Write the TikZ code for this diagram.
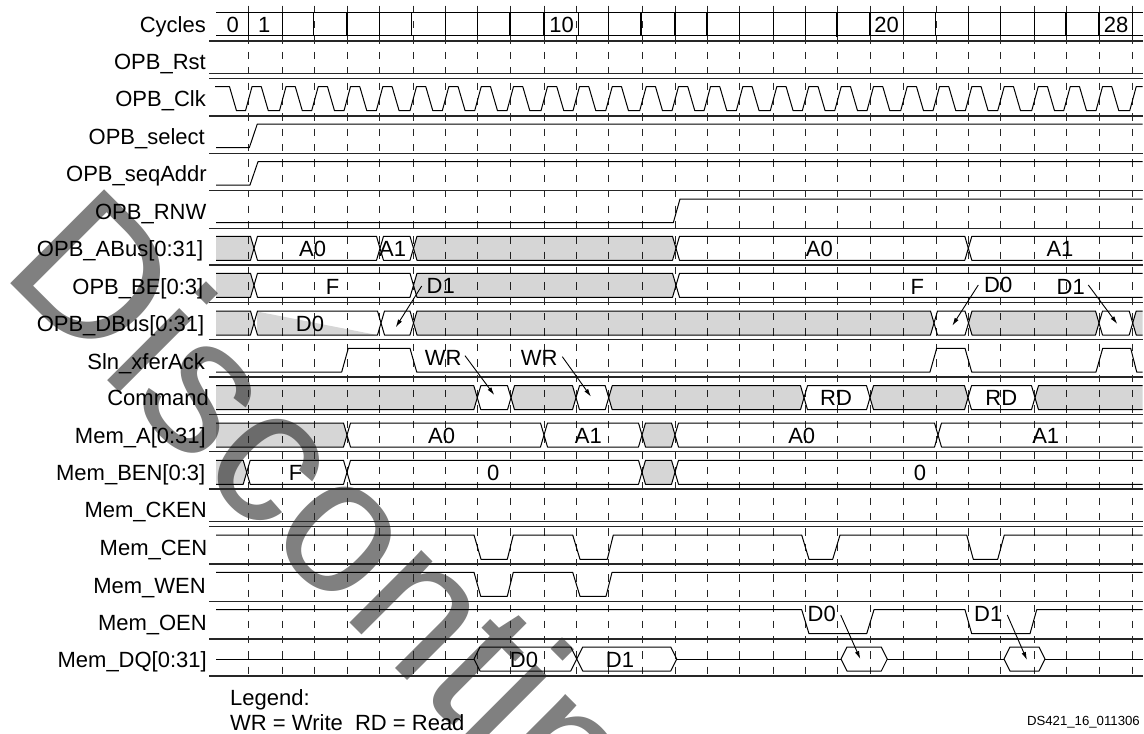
\documentclass[tikz,border=0pt]{standalone}
\usepackage{fontspec}
\setmainfont{Liberation Sans}
\usetikzlibrary{arrows.meta}
\definecolor{wm}{gray}{0.5}
\tikzset{
  wave/.style={draw=black,line width=1pt,line join=round},
  sep/.style={draw=black!85,line width=1.1pt},
  grayfill/.style={fill=black,fill opacity=.16},
  nofill/.style={fill=none},
  tickline/.style={draw=black!85,line width=.95pt,dash pattern=on 7.3pt off 8.07pt},
  bar/.style={draw=black,line width=1.2pt},
  sig/.style={anchor=base east,inner sep=0pt,font=\fontsize{22}{24}\selectfont},
  val/.style={anchor=base,inner sep=0pt,font=\fontsize{22}{24}\selectfont},
  note/.style={anchor=base west,inner sep=0pt,font=\fontsize{22}{24}\selectfont},
  callout/.style={draw=black,line width=.9pt,-{Latex[length=8pt,width=4.5pt]}},
}
% bus segments: top y, x1, x2, style (height 24, tip 3.5)
\newcommand{\seg}[4]{\draw[wave,#4] (#2,#1+12) -- (#2+3.5,#1) -- (#3-3.5,#1) -- (#3,#1+12) -- (#3-3.5,#1+24) -- (#2+3.5,#1+24) -- cycle;}
\newcommand{\segL}[3]{%
  \path[#3] (216,#1) -- (#2-3.5,#1) -- (#2,#1+12) -- (#2-3.5,#1+24) -- (216,#1+24) -- cycle;
  \draw[wave] (216,#1) -- (#2-3.5,#1) -- (#2,#1+12) -- (#2-3.5,#1+24) -- (216,#1+24);}
\newcommand{\segR}[3]{%
  \path[#3] (1142.7,#1) -- (#2+3.5,#1) -- (#2,#1+12) -- (#2+3.5,#1+24) -- (1142.7,#1+24) -- cycle;
  \draw[wave] (1142.7,#1) -- (#2+3.5,#1) -- (#2,#1+12) -- (#2+3.5,#1+24) -- (1142.7,#1+24);}
\newcommand{\dq}[2]{\draw[wave] (#1,659) -- (#1+6,647) -- (#2-6,647) -- (#2,659) -- (#2-6,671) -- (#1+6,671) -- cycle;}
\begin{document}
\begin{tikzpicture}[x=1pt,y=-1pt]
\useasboundingbox (0,0) rectangle (1144,734);
\clip (0,0) rectangle (1144,734);
\fill[white] (0,0) rectangle (1144,734);
% watermark
\node[rotate=-45,anchor=base west,inner sep=0pt,text=wm,font=\fontsize{193}{193}\selectfont] (stamp) at (-0.5,272.5) {Discontinued};
% light wedge in OPB_DBus
\fill[black,fill opacity=.16] (257,311.5) -- (377,335) -- (257,335) -- cycle;
% grid ticks
\foreach \x in {248.5,282.5,314.7,347,379.3,413,445.3,477.7,510,544,576,608.7,642.7,675,707,739.3,773.3,805.3,837.7,870,903.7,936,968.3,1000.7,1034.7,1066.7,1099,1132.7}
  \draw[tickline] (\x,5.7) -- (\x,673.9);
% cycle bars
\draw[wave] (216,12.3) -- (1142.7,12.3) (216,35.7) -- (1142.7,35.7);
\foreach \x in {248.5,282.5,313.5,347,379.3,411.7,445.3,477.7,510,544,578.3,608.7,641,675,707,739.3,773.3,805.3,870,903.7,935.7,968.3,1000.7,1034.7,1066,1099,1132.7}
  \draw[bar] (\x,12.3) -- (\x,35.7);
\draw[bar,line width=2.4pt] (836.9,12.3) -- (836.9,37);
% separators
\foreach \y in {41,73.3,78.7,116,153.3,190.7,228.3,265,302.3,339.7,377,414.3,451.7,489,521.3,526.7,564,601.7,639,676}
  \draw[sep] (209.3,\y) -- (1142.7,\y);
% OPB_Clk
\draw[wave] (215,86.7) -- (229.5,86.7) -- (236.5,110.7)
  foreach \t in {248.5,282.5,314.7,347,379.3,413,445.3,477.7,510,544,576,608.7,642.7,675,707,739.3,773.3,805.3,837.7,870,903.7,936,968.3,1000.7,1034.7,1066.7,1099}
  { -- (\t-3,110.7) -- (\t+3.5,86.7) -- (\t+12.8,86.7) -- (\t+19.8,110.7) }
  -- (1129.7,110.7) -- (1136.2,86.7) -- (1142.7,86.7);
% single-bit signals
\draw[wave] (216,147.7) -- (249.3,147.7) -- (257.3,124) -- (1142.7,124);
\draw[wave] (216,185) -- (250,185) -- (258,161.7) -- (1142.7,161.7);
\draw[wave] (216,222.7) -- (673.3,222.7) -- (680,199) -- (1142.7,199);
\draw[wave] (216,372) -- (341.7,372) -- (348.3,348.3) -- (410,348.3) -- (416.7,372) -- (930,372) -- (936.7,348.3) -- (965,348.3) -- (971.7,372) -- (1096,372) -- (1102.7,348.3) -- (1130.7,348.3) -- (1136.7,372) -- (1142.7,372);
\draw[wave] (216,535) -- (474,535) -- (481,559.3) -- (507.3,559.3) -- (513.3,535) -- (572.7,535) -- (580,559.3) -- (607.3,559.3) -- (613.3,535) -- (801.7,535) -- (809,559.3) -- (832.7,559.3) -- (840,535) -- (966.7,535) -- (973.3,559.3) -- (997.7,559.3) -- (1004.3,535) -- (1142.7,535);
\draw[wave] (216,572.3) -- (474,572.3) -- (480.7,596.3) -- (507.3,596.3) -- (513.3,572.3) -- (572.7,572.3) -- (580,596.3) -- (606,596.3) -- (612,572.3) -- (1142.7,572.3);
\draw[wave] (216,609.7) -- (801.7,609.7) -- (809,633.7) -- (866.7,633.7) -- (874,609.7) -- (965,609.7) -- (971.7,633.7) -- (1030,633.7) -- (1036.7,609.7) -- (1142.7,609.7);
% OPB_ABus
\segL{236.3}{254}{grayfill}
\seg{236.3}{254}{380}{nofill}
\seg{236.3}{380}{413.5}{nofill}
\seg{236.3}{413.5}{676}{grayfill}
\seg{236.3}{676}{968.3}{nofill}
\segR{236.3}{968.3}{nofill}
% OPB_BE
\segL{273.3}{254}{grayfill}
\seg{273.3}{254}{413.5}{nofill}
\seg{273.3}{413.5}{676}{grayfill}
\segR{273.3}{676}{nofill}
% OPB_DBus
\segL{311}{254}{grayfill}
\seg{311}{254}{381}{nofill}
\seg{311}{381}{413.5}{nofill}
\seg{311}{413.5}{934}{grayfill}
\seg{311}{934}{968.5}{nofill}
\seg{311}{968.5}{1099}{grayfill}
\seg{311}{1099}{1132.7}{nofill}
\segR{311}{1132.7}{grayfill}
% Command
\segL{385.7}{477.3}{grayfill}
\seg{385.7}{477.3}{511}{nofill}
\seg{385.7}{511}{576}{grayfill}
\seg{385.7}{576}{608.7}{nofill}
\seg{385.7}{608.7}{804}{grayfill}
\seg{385.7}{804}{870}{nofill}
\seg{385.7}{870}{968}{grayfill}
\seg{385.7}{968}{1035}{nofill}
\segR{385.7}{1035}{grayfill}
% Mem_A
\segL{423}{347}{grayfill}
\seg{423}{347}{544}{nofill}
\seg{423}{544}{642}{nofill}
\seg{423}{642}{675}{grayfill}
\seg{423}{675}{938}{nofill}
\segR{423}{938}{nofill}
% Mem_BEN
\segL{460.3}{246.7}{grayfill}
\seg{460.3}{246.7}{347}{nofill}
\seg{460.3}{347}{642}{nofill}
\seg{460.3}{642}{675}{grayfill}
\segR{460.3}{675}{nofill}
% Mem_DQ
\draw[wave] (216,659) -- (474,659) (676.7,659) -- (841,659) (887.3,659) -- (1004,659) (1045,659) -- (1142.7,659);
\dq{474}{576.7}
\dq{576.7}{676.7}
\dq{841}{887.3}
\dq{1004}{1045}
% signal names
\node[sig] (nCycles) at (206,32.7) {Cycles};
\node[sig] (nRst) at (206,69.3) {OPB\_Rst};
\node[sig] (nClk) at (206,106.7) {OPB\_Clk};
\node[sig] (nSel) at (205,144.3) {OPB\_select};
\node[sig] (nSeq) at (207,181.7) {OPB\_seqAddr};
\node[sig] (nRNW) at (206.5,219) {OPB\_RNW};
\node[sig] (nABus) at (203.5,256.7) {OPB\_ABus[0:31]};
\node[sig] (nBE) at (203.5,294.3) {OPB\_BE[0:3]};
\node[sig] (nDBus) at (204.5,331.7) {OPB\_DBus[0:31]};
\node[sig] (nAck) at (205,369) {Sln\_xferAck};
\node[sig] (nCmd) at (209,405.7) {Command};
\node[sig] (nMA) at (206,443.3) {Mem\_A[0:31]};
\node[sig] (nBEN) at (205.5,480.7) {Mem\_BEN[0:3]};
\node[sig] (nCKEN) at (207,517.3) {Mem\_CKEN};
\node[sig] (nCEN) at (207.5,555.7) {Mem\_CEN};
\node[sig] (nWEN) at (206,593.3) {Mem\_WEN};
\node[sig] (nOEN) at (207,630) {Mem\_OEN};
\node[sig] (nDQ) at (207,667.7) {Mem\_DQ[0:31]};
% cycle numbers
\node[val] (c0) at (232.7,32.7) {0};
\node[val] (c1) at (264.3,32.7) {1};
\node[val] (c10) at (561.7,32.7) {10};
\node[val] (c20) at (886.7,32.7) {20};
\node[val] (c28) at (1116,32.7) {28};
% values
\node[val] (v1) at (312.7,256.7) {A0};
\node[val] (v2) at (392.7,256.7) {A1};
\node[val] (v3) at (819.3,256.7) {A0};
\node[val] (v4) at (1060,256.7) {A1};
\node[val] (v5) at (332.7,294.3) {F};
\node[val] (v6) at (440.7,293.3) {D1};
\node[val] (v7) at (917.3,294.3) {F};
\node[val] (v8) at (998.3,292.3) {D0};
\node[val] (v9) at (1070.7,294) {D1};
\node[val] (v10) at (310,331.7) {D0};
\node[val] (v11) at (443.3,365) {WR};
\node[val] (v12) at (539.3,365) {WR};
\node[val] (v13) at (836,405.7) {RD};
\node[val] (v14) at (1001.3,405.7) {RD};
\node[val] (v15) at (441.7,443.3) {A0};
\node[val] (v16) at (588.3,443.3) {A1};
\node[val] (v17) at (801.7,443.3) {A0};
\node[val] (v18) at (1045.7,443.3) {A1};
\node[val] (v19) at (295.7,480.7) {F};
\node[val] (v20) at (493.3,480.7) {0};
\node[val] (v21) at (920,480.7) {0};
\node[val] (v22) at (821.7,621.7) {D0};
\node[val] (v23) at (988.3,621.7) {D1};
\node[val] (v24) at (524,667.7) {D0};
\node[val] (v25) at (620,667.7) {D1};
% legend and code
\node[note] (leg1) at (230,705) {Legend:};
\node[note] (leg2) at (230,730.7) {WR = Write\ \ RD = Read};
\node[anchor=base east,inner sep=0pt,font=\fontsize{13.2}{15}\selectfont] (code) at (1140,725.7) {DS421\_16\_011306};
% callouts
\coordinate (a1) at (421.7,286);    \coordinate (b1) at (395.7,327.3);
\coordinate (a2) at (465,355.7);    \coordinate (b2) at (494.3,395);
\coordinate (a3) at (562.3,356.7);  \coordinate (b3) at (591,396.7);
\coordinate (a4) at (978.3,285);    \coordinate (b4) at (952.3,325.7);
\coordinate (a5) at (1088.3,285);   \coordinate (b5) at (1117.3,324);
\coordinate (a6) at (840.7,615);    \coordinate (b6) at (860.3,659);
\coordinate (a7) at (1007.3,615);   \coordinate (b7) at (1027,660);
\foreach \k in {1,...,7} \draw[callout] (a\k) -- (b\k);
\end{tikzpicture}
\end{document}
